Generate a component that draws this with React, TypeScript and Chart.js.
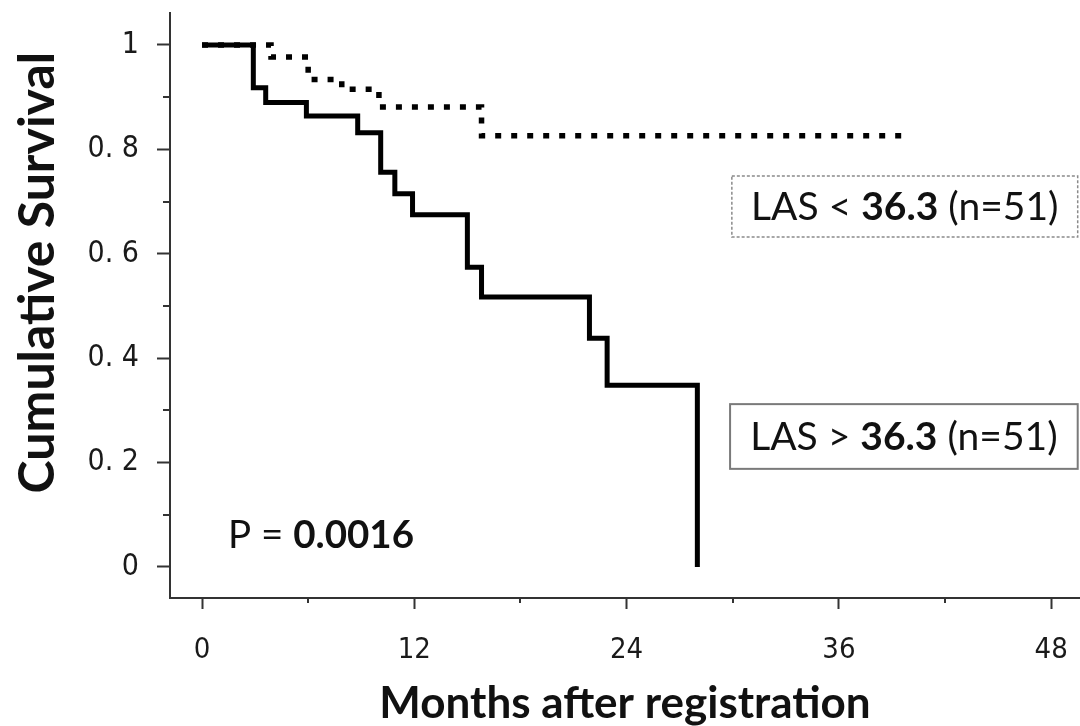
import React, { useEffect, useRef } from "react";
import { Chart, registerables } from "chart.js";

Chart.register(...registerables);

// ---- data ----
const xTickValues = [0, 12, 24, 36, 48];
const xTickLabels = ["0", "12", "24", "36", "48"];
const xMinorTickValues = [6, 18, 30, 42];
const yTickValues = [0, 0.2, 0.4, 0.6, 0.8, 1];
const yTickLabels = ["0", "0. 2", "0. 4", "0. 6", "0. 8", "1"];
const yMinorTickValues = [0.1, 0.3, 0.5, 0.7, 0.9];

// LAS > 36.3 (solid)
const highLasMonths = [0, 2.9, 3.6, 5.9, 8.8, 10.1, 10.9, 11.9, 15.0, 15.8, 21.9, 22.9, 28.0];
const highLasSurvival = [1, 0.918, 0.89, 0.864, 0.832, 0.756, 0.715, 0.675, 0.574, 0.517, 0.438, 0.348, 0];

// LAS < 36.3 (dotted)
const lowLasMonths = [0, 3.9, 6.0, 7.9, 10.0, 15.8, 40.0];
const lowLasSurvival = [1, 0.977, 0.934, 0.915, 0.881, 0.826, 0.826];

const xTitle = "Months after registration";
const yTitle = "Cumulative Survival";
const lowLabel: [string, boolean][] = [["LAS < ", false], ["36.3", true], [" (n=51)", false]];
const highLabel: [string, boolean][] = [["LAS > ", false], ["36.3", true], [" (n=51)", false]];
const pLabel: [string, boolean][] = [["P = ", false], ["0.0016", true]];

const TEXT_FONT = "Lato, 'Open Sans', sans-serif";
const TICK_FONT = "'DejaVu Sans Condensed', 'Liberation Sans Narrow', sans-serif";

function drawSegments(ctx: CanvasRenderingContext2D, segs: [string, boolean][], x: number, y: number, size: number, align: "left" | "center") {
  const fonts = segs.map(([, b]) => `${b ? "bold" : "normal"} ${size}px ${TEXT_FONT}`);
  const widths = segs.map(([t], i) => {
    ctx.font = fonts[i];
    return ctx.measureText(t).width;
  });
  const total = widths.reduce((a, b) => a + b, 0);
  let cx = align === "center" ? x - total / 2 : x;
  ctx.textAlign = "left";
  ctx.textBaseline = "middle";
  ctx.fillStyle = "#111";
  segs.forEach(([t], i) => {
    ctx.font = fonts[i];
    ctx.fillText(t, cx, y);
    cx += widths[i];
  });
}

const overlayPlugin = {
  id: "overlay",
  afterDraw(chart: any) {
    const ctx: CanvasRenderingContext2D = chart.ctx;
    const xs = chart.scales.x;
    const ys = chart.scales.y;
    const area = chart.chartArea;
    ctx.save();
    // minor ticks
    ctx.strokeStyle = "#333";
    ctx.lineWidth = 2;
    xMinorTickValues.forEach((v) => {
      const px = Math.round(xs.getPixelForValue(v));
      ctx.beginPath();
      ctx.moveTo(px, area.bottom);
      ctx.lineTo(px, area.bottom + 5);
      ctx.stroke();
    });
    yMinorTickValues.forEach((v) => {
      const py = Math.round(ys.getPixelForValue(v));
      ctx.beginPath();
      ctx.moveTo(area.left - 7, py);
      ctx.lineTo(area.left, py);
      ctx.stroke();
    });

    // legend boxes
    const box = (x0: number, x1: number, y0: number, y1: number, dashed: boolean, segs: [string, boolean][]) => {
      const l = xs.getPixelForValue(x0);
      const r = xs.getPixelForValue(x1);
      const t = ys.getPixelForValue(y0);
      const b = ys.getPixelForValue(y1);
      ctx.save();
      ctx.strokeStyle = dashed ? "#8a8a8a" : "#7a7a7a";
      ctx.lineWidth = dashed ? 1.5 : 2;
      ctx.setLineDash(dashed ? [3, 2] : []);
      ctx.strokeRect(l, t, r - l, b - t);
      ctx.restore();
      drawSegments(ctx, segs, (l + r) / 2, (t + b) / 2 + 1, 39, "center");
    };
    box(29.95, 49.5, 0.749, 0.632, true, lowLabel);
    box(29.85, 49.5, 0.312, 0.188, false, highLabel);

    // p-value
    drawSegments(ctx, pLabel, xs.getPixelForValue(1.47), ys.getPixelForValue(0.061), 38.5, "left");

    // y title
    ctx.save();
    ctx.translate(38, ys.getPixelForValue(0.564));
    ctx.rotate(-Math.PI / 2);
    ctx.font = `bold 50px ${TEXT_FONT}`;
    ctx.fillStyle = "#111";
    ctx.textAlign = "center";
    ctx.textBaseline = "middle";
    ctx.fillText(yTitle, 0, 0);
    ctx.restore();

    ctx.restore();
  },
};

function zeroPadding(s: any) {
  s.paddingTop = 0;
  s.paddingBottom = 0;
  s.paddingLeft = 0;
  s.paddingRight = 0;
}

export default function App() {
  const ref = useRef<HTMLCanvasElement | null>(null);
  useEffect(() => {
    if (!ref.current) return;
    const chart = new Chart(ref.current, {
      type: "line",
      data: {
        datasets: [
          {
            label: "LAS > 36.3 (n=51)",
            data: highLasMonths.map((m, i) => ({ x: m, y: highLasSurvival[i] })),
            borderColor: "#000",
            borderWidth: 5,
            stepped: "before",
            pointRadius: 0,
            fill: false,
            borderCapStyle: "butt",
            borderJoinStyle: "miter",
          },
          {
            label: "LAS < 36.3 (n=51)",
            data: lowLasMonths.map((m, i) => ({ x: m, y: lowLasSurvival[i] })),
            borderColor: "#000",
            borderWidth: 5.5,
            borderDash: [6, 10],
            stepped: "before",
            pointRadius: 0,
            fill: false,
            borderCapStyle: "butt",
            borderJoinStyle: "miter",
          },
        ],
      },
      options: {
        animation: false,
        responsive: false,
        layout: { padding: { top: 13, right: 0, left: 0, bottom: 0 } },
        plugins: { legend: { display: false }, tooltip: { enabled: false } },
        scales: {
          x: {
            type: "linear",
            min: -1.81,
            max: 49.63,
            afterFit: (s: any) => {
              s.height = 128;
              zeroPadding(s);
            },
            afterBuildTicks: (s: any) => {
              s.ticks = xTickValues.map((v) => ({ value: v }));
            },
            grid: { drawOnChartArea: false, drawTicks: true, tickLength: 11, tickColor: "#333", tickWidth: 2 },
            border: { display: true, color: "#333", width: 2 },
            ticks: {
              padding: 24,
              color: "#1a1a1a",
              font: { family: TICK_FONT, size: 29 },
              maxRotation: 0,
              autoSkip: false,
              callback: (v: any) => xTickLabels[xTickValues.indexOf(v)],
            },
            title: {
              display: true,
              text: xTitle,
              color: "#111",
              font: { family: TEXT_FONT, size: 44, weight: "bold", lineHeight: 1 },
              padding: { top: 0, bottom: 0 },
            },
          },
          y: {
            type: "linear",
            min: -0.0594,
            max: 1.0613,
            afterFit: (s: any) => {
              s.width = 170;
              zeroPadding(s);
            },
            afterBuildTicks: (s: any) => {
              s.ticks = yTickValues.map((v) => ({ value: v }));
            },
            grid: { drawOnChartArea: false, drawTicks: true, tickLength: 13, tickColor: "#333", tickWidth: 2 },
            border: { display: true, color: "#333", width: 2 },
            ticks: {
              padding: 18,
              color: "#1a1a1a",
              font: { family: TICK_FONT, size: 30 },
              autoSkip: false,
              callback: (v: any) => yTickLabels[yTickValues.indexOf(v)],
            },
          },
        },
      },
      plugins: [overlayPlugin],
    } as any);
    return () => chart.destroy();
  }, []);
  return (
    <div style={{ position: "fixed", left: 0, top: 0, width: 1080, height: 726, background: "#fff" }}>
      <canvas ref={ref} width={1080} height={726} style={{ display: "block" }} />
    </div>
  );
}
